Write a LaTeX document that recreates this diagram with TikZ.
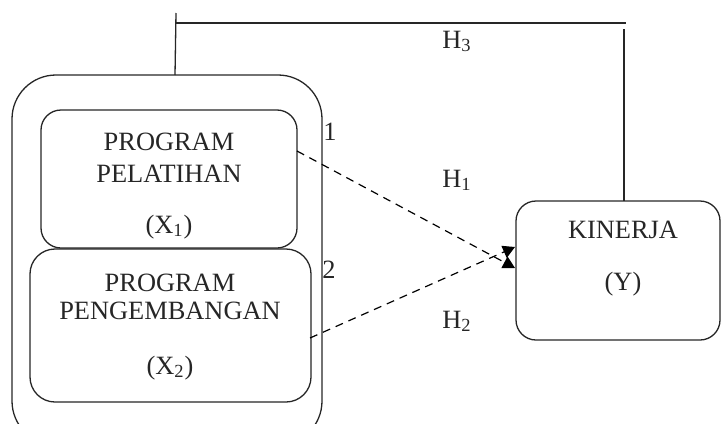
\documentclass[tikz,border=0pt]{standalone}
\usepackage{fontspec}
\setmainfont{Liberation Serif}
\usetikzlibrary{arrows.meta}
\begin{document}
\begin{tikzpicture}[x=0.5pt,y=-0.5pt,
  line/.style={line width=0.65pt,black!85},
  rbox/.style={draw=black!85,line width=0.65pt,inner sep=0pt,outer sep=0pt},
  txt/.style={anchor=base,inner sep=0pt,font=\fontsize{13.2}{15}\selectfont,text=black!85},
  dasharrow/.style={line width=0.6pt,dash pattern=on 4pt off 3pt,-{Triangle[length=6pt,width=6.5pt]}}]
\useasboundingbox (0,0) rectangle (721,423);
% outer container
\draw[rbox,rounded corners=22pt] (12,75) rectangle (322,445);
\node[rbox,rounded corners=10pt,minimum width=128pt,minimum height=69pt] (x1) at (169,179) {};
\node[rbox,rounded corners=12.5pt,minimum width=140.5pt,minimum height=76.5pt,fill=white] (x2) at (170.5,325.5) {};
\node[rbox,rounded corners=10pt,minimum width=102pt,minimum height=69.5pt] (y) at (618,270.5) {};
% texts
\node[txt] (t1a) at (169,150) {PROGRAM};
\node[txt] (t1b) at (169,182) {PELATIHAN};
\node[txt] (t1c) at (169,233) {(X\textsubscript{1})};
\node[txt] (t2a) at (170,291) {PROGRAM};
\node[txt] (t2b) at (170,319) {PENGEMBANGAN};
\node[txt] (t2c) at (170,374) {(X\textsubscript{2})};
\node[txt] (ty1) at (623,238) {KINERJA};
\node[txt] (ty2) at (623,290) {(Y)};
\node[txt] (h1) at (457,187) {H\textsubscript{1}};
\node[txt] (h2) at (457,328) {H\textsubscript{2}};
\node[txt] (h3) at (457,48) {H\textsubscript{3}};
\node[txt,anchor=base west] (n1) at (323,140) {1};
\node[txt,anchor=base west] (n2) at (322,278) {2};
% H3 connector
\coordinate (a1) at (175,75);
\coordinate (a2) at (176,13);
\coordinate (b1) at (175,23);
\coordinate (b2) at (626,23);
\coordinate (c1) at (624,29);
\draw[line] (a1) -- (a2);
\draw[line] (b1) -- (b2);
\draw[line] (c1) -- (y.north -| c1);
% dashed arrows
\coordinate (e1) at (297,151);
\coordinate (e2) at (310,338);
\draw[dasharrow] (e1) -- (515,268);
\draw[dasharrow] (e2) -- (515,247);
\end{tikzpicture}
\end{document}
